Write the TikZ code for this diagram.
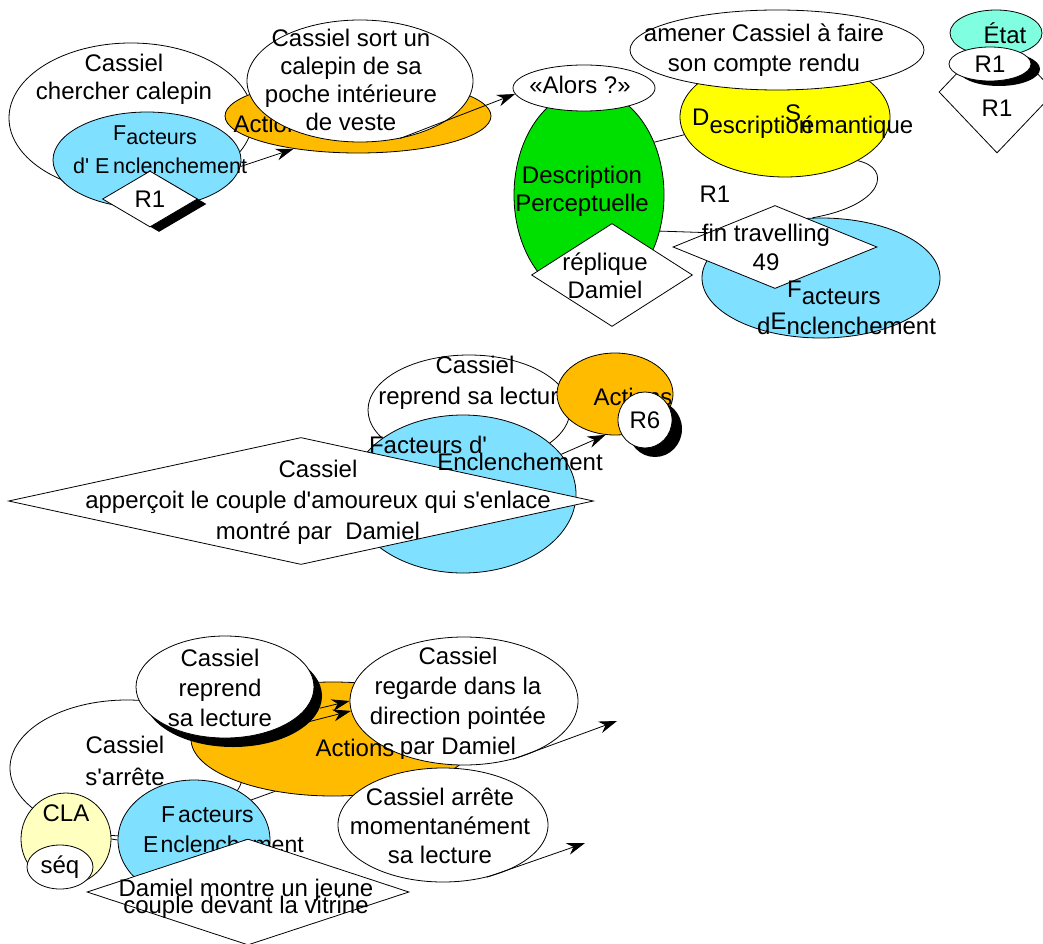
\documentclass[tikz,border=0pt]{standalone}
\usepackage{fontspec}
\setmainfont{Liberation Sans}
\usetikzlibrary{shapes.geometric, arrows.meta, shadows}

\definecolor{facblue}{HTML}{80E0FF}
\definecolor{actorange}{HTML}{FFBB00}
\definecolor{percgreen}{HTML}{00E000}
\definecolor{semyellow}{HTML}{FFFF00}
\definecolor{etatcyan}{HTML}{80FFE0}
\definecolor{clayellow}{HTML}{FFFFC0}
\newcommand{\apo}{\textquotesingle}

\tikzset{
  bulle/.style={ellipse, draw, line width=0.8pt, inner sep=0pt},
  losange/.style={diamond, draw, fill=white, line width=0.8pt, inner sep=0pt},
  texte/.style={align=center, inner sep=0pt},
  dims/.style 2 args={minimum width=#1pt, minimum height=#2pt},
  ombre/.style 2 args={drop shadow={shadow xshift=#1pt, shadow yshift=-#2pt, fill=black, opacity=1}},
  trait/.style={line width=0.8pt},
  fleche/.style={line width=0.8pt, -{Stealth[length=18pt, width=12pt]}},
}

\begin{document}
\begin{tikzpicture}[x=1pt, y=-1pt, font=\fontsize{24}{28}\selectfont]
\path[use as bounding box, fill=white] (0,0) rectangle (1043,944);

% Cassiel chercher calepin
\node[bulle, fill=white, dims={244}{150}] (ctxA) at (131,118) {};
\node[texte] (ctxAt) at (124,79) {Cassiel\\chercher calepin};
\node[bulle, fill=facblue, dims={188}{96}] (facA) at (147,160) {};
\node[anchor=base west, inner sep=0pt, font=\fontsize{21.5}{26}\selectfont] (facAt1) at (113,141) {F\raisebox{-3.5pt}{acteurs}};
\node[anchor=base west, inner sep=0pt, font=\fontsize{21.5}{26}\selectfont] (facAt2) at (73,174) {d\apo{} E\,nclenchement};
\node[losange, ombre={9}{5}, dims={95}{56}] (relA) at (150,199) {R1};
\node[bulle, fill=actorange, dims={266}{74}] (actA) at (358,116) {};
\node[texte] (actAt) at (273,124) {Actions};
\node[bulle, fill=white, dims={226}{122}] (sortA) at (360,81) {};
\node[texte] (sortAt) at (351,80) {Cassiel sort un\\calepin de sa\\poche intérieure\\de veste};
\draw[fleche] (facA.-4) -- (actA.207);

% Description perceptuelle / semantique
\node[bulle, fill=percgreen, dims={150}{210}] (percB) at (589,195) {};
\node[texte] (percBt) at (582,191) {Description\\Perceptuelle};
\node[bulle, fill=white, dims={142}{46}] (alors) at (584,88) {};
\node[texte] (alorst) at (580,85) {«Alors ?»};
\node[bulle, fill=semyellow, dims={210}{120}] (semB) at (785,117) {};
\node[anchor=base west, inner sep=0pt] (semBt1) at (692,126) {D\raisebox{-7.5pt}{escription}};
\node[anchor=base west, inner sep=0pt] (semBt2) at (785,122) {S\raisebox{-11.5pt}{émantique}};
\node[bulle, fill=white, dims={294}{80}] (butB) at (777,50) {};
\node[texte, font=\fontsize{24}{30}\selectfont] (butBt) at (764,50) {amener Cassiel à faire\\son compte rendu};
\node[bulle, fill=facblue, dims={238}{120}] (facB) at (821,278) {};
\node[losange, dims={204}{83}] (finB) at (775,247) {};
\node[texte, font=\fontsize{24}{29}\selectfont] (finBt) at (766,247) {fin travelling\\49};
\node[losange, dims={161}{103}] (repB) at (612,275) {};
\node[texte] (repBt) at (605,276) {réplique\\Damiel};
\node[anchor=base west, inner sep=0pt] (facBt1) at (787,297) {F\raisebox{-7pt}{acteurs}};
\node[anchor=base west, inner sep=0pt] (facBt2) at (757,334) {d\raisebox{5pt}{E}nclenchement};
\node[texte] (relBt) at (715,194) {R1};
\draw[trait] (percB.39) -- (semB.190);
\draw[trait] (semB.-31) .. controls (892,168) and (885,205) .. (facB.98);
\draw[trait] (percB.-27) -- (finB.168);
\draw[fleche] (sortA.-55) -- (alors.185);

% Etat
\node[losange, dims={116}{122}] (relC) at (997,92) {};
\node[bulle, fill=etatcyan, dims={92}{46}] (etatC) at (996,33) {};
\node[texte] (etatCt) at (1005,33) {État};
\node[bulle, fill=white, ombre={9}{5}, dims={82}{34}] (relCe) at (990,64) {R1};
\node[texte] (relCt) at (997,108) {R1};

% Cassiel reprend sa lecture
\node[bulle, fill=white, dims={202}{110}] (ctxD) at (469,410) {};
\node[texte, font=\fontsize{24}{31}\selectfont] (ctxDt) at (475,383) {Cassiel\\reprend sa lecture};
\node[bulle, fill=actorange, dims={116}{82}] (actD) at (615,394) {};
\node[texte] (actDt) at (633,397) {Actions};
\node[bulle, fill=white, ombre={10}{9}, dims={54}{56}] (relD) at (645,420) {R6};
\node[bulle, fill=facblue, dims={226}{158}] (facD) at (463,494) {};
\draw[fleche] (facD.22) -- (actD.257);
\node[losange, dims={585}{127}] (voitD) at (301,501) {};
\node[texte, font=\fontsize{24}{31}\selectfont] (voitDt) at (318,502) {Cassiel\\apperçoit le couple d\apo{}amoureux qui s\apo{}enlace\\montré par\ \ Damiel};
\node[texte] (facDt1) at (428,445) {Facteurs d\apo};
\node[texte] (facDt2) at (520,462) {Enclenchement};

% Cassiel s'arrete
\node[bulle, fill=white, dims={234}{136}] (ctxE) at (127,768) {};
\node[texte, font=\fontsize{24}{32}\selectfont] (ctxEt) at (125,761) {Cassiel\\s\apo{}arrête};
\node[bulle, fill=actorange, dims={284}{114}] (actE) at (333,739) {};
\node[bulle, fill=white, ombre={8}{9}, dims={178}{102}] (repE) at (225,687) {};
\node[texte, font=\fontsize{24}{30}\selectfont] (repEt) at (220,688) {Cassiel\\reprend\\sa lecture};
\node[bulle, fill=white, dims={228}{128}] (regE) at (464,701) {};
\node[texte, font=\fontsize{24}{30}\selectfont] (regEt) at (458,703) {Cassiel\\regarde dans la\\direction pointée\\par Damiel};
\node[texte] (actEt) at (355,748) {Actions};
\node[bulle, fill=white, dims={210}{114}] (arrE) at (443,825) {};
\node[texte, font=\fontsize{24}{29}\selectfont] (arrEt) at (440,826) {Cassiel arrête\\momentanément\\sa lecture};
\coordinate (regE-fin) at (617,721);
\coordinate (arrE-fin) at (585,843);
\draw[fleche] ([shift={(8,9)}]repE.-8) -- (regE.180);
\draw[fleche] (repE.-50) -- (regE.185);
\draw[fleche] (regE.-50) -- (regE-fin);
\draw[fleche] (arrE.-50) -- (arrE-fin);
\node[bulle, fill=clayellow, dims={90}{92}] (claE) at (66,839) {};
\node[texte] (claEt) at (66,813) {CLA};
\node[bulle, fill=white, dims={66}{44}] (seqE) at (60,867) {séq};
\node[bulle, fill=facblue, dims={152}{120}] (facE) at (194,840) {};
\draw[trait] (claE.0) -- (facE.180);
\draw[trait] (facE.35) -- (actE.222);
\node[anchor=base west, inner sep=0pt, font=\fontsize{23}{28}\selectfont] (facEt1) at (161,822) {F\hspace{3pt}acteurs};
\node[anchor=base west, inner sep=0pt, font=\fontsize{23}{28}\selectfont] (facEt2) at (143,852) {E\hspace{2pt}nclenchement};
\node[losange, dims={322}{106}] (montreE) at (248,892) {};
\node[texte, font={\fontsize{24}{17}\selectfont\lineskiplimit=-30pt}] (montreEt) at (246,899) {Damiel montre un jeune\\couple devant la vitrine};
\end{tikzpicture}
\end{document}
